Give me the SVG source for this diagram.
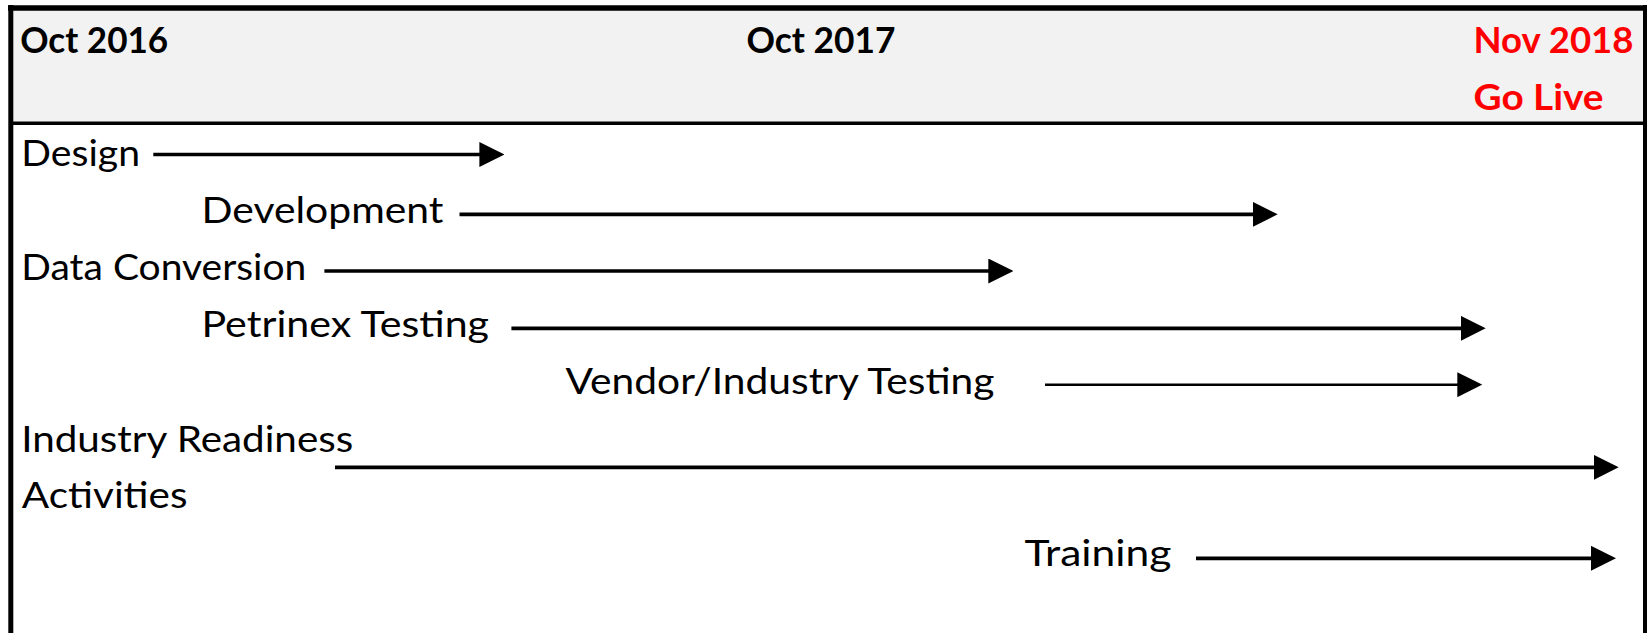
<svg xmlns="http://www.w3.org/2000/svg" width="1647" height="633" viewBox="0 0 1647 633">
  <style>
    .lbl { font-family: Lato, "Liberation Sans", sans-serif; font-size: 37px; fill: #000; }
    .hdr { font-family: Lato, "Liberation Sans", sans-serif; font-size: 37px; font-weight: bold; fill: #000; }
    .red { fill: #ff0000; }
    .conn { stroke: #000; stroke-width: 3.7; fill: none; }
    .thin { stroke-width: 2.4; }
  </style>
  <defs>
    <marker id="arrow" markerUnits="userSpaceOnUse" markerWidth="25" markerHeight="25" refX="2" refY="12.5" orient="auto">
      <path d="M0,0 L25,12.5 L0,25 z" fill="#000"/>
    </marker>
  </defs>
  <rect x="0" y="0" width="1647" height="633" fill="#ffffff"/>
  <g id="frame">
    <rect x="10" y="8" width="1635" height="115" fill="#f2f2f2"/>
    <line x1="8" y1="8" x2="1647" y2="8" stroke="#000" stroke-width="5.5"/>
    <line x1="10" y1="123.3" x2="1645" y2="123.3" stroke="#000" stroke-width="3.5"/>
    <line x1="10.8" y1="5" x2="10.8" y2="633" stroke="#000" stroke-width="5"/>
    <line x1="1645" y1="5" x2="1645" y2="633" stroke="#000" stroke-width="4"/>
  </g>
  <g id="header">
    <text class="hdr" x="20.2" y="53.3" textLength="148" lengthAdjust="spacingAndGlyphs">Oct 2016</text>
    <text class="hdr" x="746.5" y="53.3" textLength="149" lengthAdjust="spacingAndGlyphs">Oct 2017</text>
    <text class="hdr red" x="1473.5" y="53.3" textLength="160" lengthAdjust="spacingAndGlyphs">Nov 2018</text>
    <text class="hdr red" x="1473.5" y="110" textLength="130" lengthAdjust="spacingAndGlyphs">Go Live</text>
  </g>
  <g id="design"><text class="lbl" x="21.3" y="165.7" textLength="118.7" lengthAdjust="spacingAndGlyphs">Design</text></g>
  <g id="development"><text class="lbl" x="201.5" y="223" textLength="242" lengthAdjust="spacingAndGlyphs">Development</text></g>
  <g id="data-conversion"><text class="lbl" x="21.3" y="280" textLength="285" lengthAdjust="spacingAndGlyphs">Data Conversion</text></g>
  <g id="petrinex-testing"><text class="lbl" x="201.5" y="336.7" textLength="287.5" lengthAdjust="spacingAndGlyphs">Petrinex Testing</text></g>
  <g id="vendor-testing"><text class="lbl" x="565.5" y="393.7" textLength="429" lengthAdjust="spacingAndGlyphs">Vendor/Industry Testing</text></g>
  <g id="industry-readiness">
    <text class="lbl" x="21.2" y="451.7" textLength="332" lengthAdjust="spacingAndGlyphs">Industry Readiness</text>
    <text class="lbl" x="21.8" y="508.3" textLength="165.7" lengthAdjust="spacingAndGlyphs">Activities</text>
  </g>
  <g id="training"><text class="lbl" x="1024.5" y="565.7" textLength="147" lengthAdjust="spacingAndGlyphs">Training</text></g>
  <g id="connectors">
    <line class="conn" x1="153.3" y1="154.5" x2="481.4" y2="154.5" marker-end="url(#arrow)"/>
    <line class="conn" x1="459.5" y1="214.3" x2="1254.7" y2="214.3" marker-end="url(#arrow)"/>
    <line class="conn" x1="324.4" y1="271" x2="990.3" y2="271" marker-end="url(#arrow)"/>
    <line class="conn" x1="511.4" y1="328.3" x2="1462.7" y2="328.3" marker-end="url(#arrow)"/>
    <line class="conn thin" x1="1045" y1="384.7" x2="1459.3" y2="384.7" marker-end="url(#arrow)"/>
    <line class="conn" x1="335" y1="467.3" x2="1595.7" y2="467.3" marker-end="url(#arrow)"/>
    <line class="conn" x1="1196" y1="558.3" x2="1593" y2="558.3" marker-end="url(#arrow)"/>
  </g>
</svg>
